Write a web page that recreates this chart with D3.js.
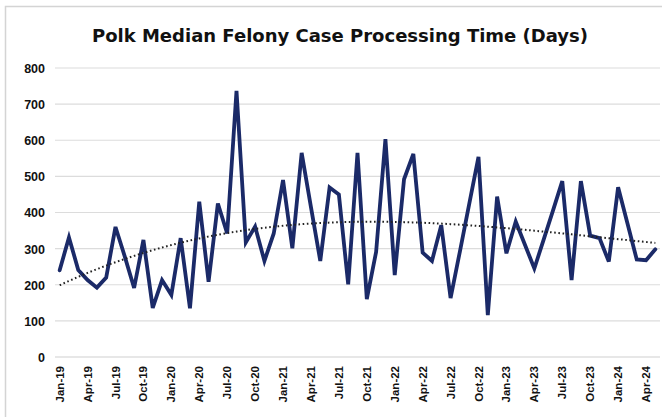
<!DOCTYPE html>
<html>
<head>
<meta charset="utf-8">
<script src="https://cdn.jsdelivr.net/npm/d3@7"></script>
<style>
html,body{margin:0;padding:0;background:#fff;}
svg{display:block;}
</style>
</head>
<body>
<svg id="chart" width="662" height="417"></svg>
<script>
const titleText = "Polk Median Felony Case Processing Time (Days)";
const categories = [
 "Jan-19","Feb-19","Mar-19","Apr-19","May-19","Jun-19","Jul-19","Aug-19","Sep-19","Oct-19","Nov-19","Dec-19",
 "Jan-20","Feb-20","Mar-20","Apr-20","May-20","Jun-20","Jul-20","Aug-20","Sep-20","Oct-20","Nov-20","Dec-20",
 "Jan-21","Feb-21","Mar-21","Apr-21","May-21","Jun-21","Jul-21","Aug-21","Sep-21","Oct-21","Nov-21","Dec-21",
 "Jan-22","Feb-22","Mar-22","Apr-22","May-22","Jun-22","Jul-22","Aug-22","Sep-22","Oct-22","Nov-22","Dec-22",
 "Jan-23","Feb-23","Mar-23","Apr-23","May-23","Jun-23","Jul-23","Aug-23","Sep-23","Oct-23","Nov-23","Dec-23",
 "Jan-24","Feb-24","Mar-24","Apr-24","May-24"
];
const medianDays = [
 240,331,241,213,192,220,360,278,191,324,136,213,
 172,329,135,430,208,425,342,737,317,361,266,342,
 490,301,565,415,266,469,450,201,565,160,291,603,
 227,492,562,289,266,365,163,292,423,554,116,444,
 287,375,310,245,325,405,487,213,487,336,329,264,
 470,370,270,268,298
];
const yTicks = [0,100,200,300,400,500,600,700,800];
const xTickLabels = categories.filter((d,i)=> i % 3 === 0);

const svg = d3.select("#chart");
const W = 662, H = 417;
const plot = {left:55, right:660, top:68, bottom:357};

// outer frame
svg.append("rect").attr("x",5.5).attr("y",6.5).attr("width",W).attr("height",H)
  .attr("fill","#fff").attr("stroke","#d4d4d4").attr("stroke-width",1.5);

const x = d3.scaleBand().domain(categories).range([plot.left, plot.right]).padding(0);
const cx = d => x(d) + x.bandwidth()/2;
const y = d3.scaleLinear().domain([0,800]).range([plot.bottom, plot.top]);

// gridlines
svg.append("g").selectAll("line").data(yTicks).join("line")
  .attr("x1", plot.left).attr("x2", plot.right)
  .attr("y1", d=>y(d)).attr("y2", d=>y(d))
  .attr("stroke", d=> d===0 ? "#cfcfcf" : "#dcdcdc").attr("stroke-width",1.2);

// y axis labels
const yAxis = d3.axisLeft(y).tickValues(yTicks).tickSize(0).tickPadding(0).tickFormat(d3.format("d"));
const gy = svg.append("g").attr("transform",`translate(${plot.left-10},0)`).call(yAxis);
gy.select(".domain").remove();
gy.selectAll("text").attr("font-family","'Liberation Sans', Arial, sans-serif")
  .attr("font-weight","bold").attr("font-size","12.5px").attr("fill","#111").attr("dy","0.35em");

// x axis labels
const xAxis = d3.axisBottom(x).tickValues(xTickLabels).tickSize(0).tickPadding(0);
const gx = svg.append("g").attr("transform",`translate(0,${plot.bottom})`).call(xAxis);
gx.select(".domain").remove();
gx.selectAll("text")
  .attr("font-family","'Liberation Sans', Arial, sans-serif")
  .attr("font-weight","bold").attr("font-size","11.5px").attr("fill","#111")
  .attr("text-anchor","end")
  .attr("transform","translate(0,9) rotate(-90)")
  .attr("x",0).attr("y",0).attr("dy","0.35em");

// polynomial (order 3) trendline by least squares on the data
function polyFit(xs, ys, order){
  const n = order+1;
  const A = Array.from({length:n},()=>Array(n+1).fill(0));
  for(let k=0;k<xs.length;k++){
    for(let i=0;i<n;i++){
      for(let j=0;j<n;j++) A[i][j] += Math.pow(xs[k], i+j);
      A[i][n] += ys[k]*Math.pow(xs[k], i);
    }
  }
  for(let i=0;i<n;i++){
    let p=i; for(let r=i+1;r<n;r++) if(Math.abs(A[r][i])>Math.abs(A[p][i])) p=r;
    [A[i],A[p]]=[A[p],A[i]];
    for(let r=0;r<n;r++){ if(r===i) continue; const f=A[r][i]/A[i][i]; for(let c=i;c<=n;c++) A[r][c]-=f*A[i][c]; }
  }
  return A.map((row,i)=>row[n]/row[i]);
}
const idx = categories.map((d,i)=>i+1);
const coef = polyFit(idx, medianDays, 3);
const trend = idx.map(t => coef.reduce((s,c,i)=>s + c*Math.pow(t,i),0));

const line = d3.line().x((d,i)=>cx(categories[i])).y(d=>y(d));

svg.append("path").datum(medianDays).attr("d", line)
  .attr("fill","none").attr("stroke","#1b2a68").attr("stroke-width",3.8)
  .attr("stroke-linejoin","miter").attr("stroke-linecap","round");

svg.append("path").datum(trend).attr("d", d3.line().curve(d3.curveMonotoneX).x((d,i)=>cx(categories[i])).y(d=>y(d)))
  .attr("fill","none").attr("stroke","#222").attr("stroke-width",2)
  .attr("stroke-dasharray","1.6,2.6");

// title
svg.append("text").attr("x", 340).attr("y", 42).attr("text-anchor","middle")
  .attr("font-family","'DejaVu Sans', sans-serif").attr("font-weight","bold")
  .attr("font-size","18px").attr("fill","#111").text(titleText);
</script>
</body>
</html>
